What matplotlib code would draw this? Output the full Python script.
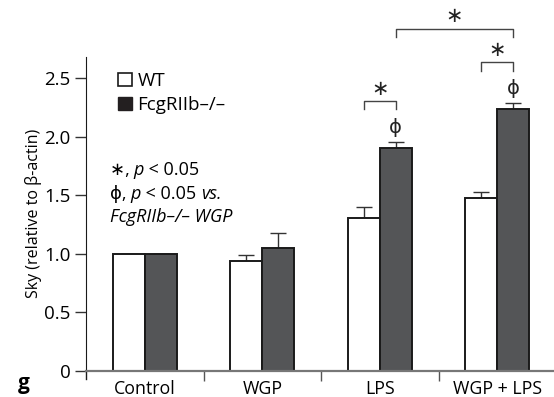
import numpy as np
import matplotlib
matplotlib.use("Agg")
import matplotlib.pyplot as plt
from matplotlib.patches import Patch

plt.rcParams["font.family"] = ["Open Sans", "DejaVu Sans"]
plt.rcParams["font.size"] = 12.5

# data
groups = ["Control", "WGP", "LPS", "WGP + LPS"]
wt_mean = [1.0, 0.936, 1.303, 1.474]
wt_err = [0.0, 0.05, 0.094, 0.055]
ko_mean = [1.0, 1.045, 1.90, 2.233]
ko_err = [0.0, 0.133, 0.053, 0.051]
series_labels = ["WT", "FcgRIIb\u2013/\u2013"]

fig = plt.figure(figsize=(5.54, 3.97), dpi=100)
ax = fig.add_axes([86 / 554, 26.5 / 397, 470 / 554, 313.5 / 397])

x = np.arange(len(groups))
w = 0.272
ax.bar(x - w / 2, wt_mean, w, color="white", edgecolor="#1a1a1a", linewidth=1.4, zorder=2)
ax.bar(x + w / 2, ko_mean, w, color="#545557", edgecolor="#1a1a1a", linewidth=1.4, zorder=2)
ax.errorbar(x - w / 2, wt_mean, yerr=[np.zeros(4), wt_err], fmt="none",
            ecolor="#333333", elinewidth=1, capsize=5.5, capthick=1, zorder=1)
ax.errorbar(x + w / 2, ko_mean, yerr=[np.zeros(4), ko_err], fmt="none",
            ecolor="#333333", elinewidth=1, capsize=5.5, capthick=1, zorder=1)

ax.set_xlim(-0.5, 3.5)
ax.set_ylim(0, 2.68)
ax.set_yticks([0, 0.5, 1.0, 1.5, 2.0, 2.5])
ax.set_yticklabels(["0", "0.5", "1.0", "1.5", "2.0", "2.5"], fontsize=13.5)
ax.tick_params(axis="y", direction="out", length=8, width=1, color="#333333", pad=3)

ax.set_xticks([0.5, 1.5, 2.5])
ax.set_xticklabels([])
ax.tick_params(axis="x", which="major", direction="out", length=7, width=1, color="#555555")
ax.set_xticks(x, minor=True)
ax.set_xticklabels(groups, minor=True, fontsize=12.8)
ax.tick_params(axis="x", which="minor", length=0, pad=7)

for s in ["top", "right"]:
    ax.spines[s].set_visible(False)
ax.spines["left"].set_color("#1a1a1a")
ax.spines["bottom"].set_color("#777777")
ax.spines["bottom"].set_linewidth(1.6)
ax.plot([-0.5, -0.5], [0, -0.07], color="#1a1a1a", lw=1, clip_on=False)

ax.set_ylabel("Sky (relative to \u03b2-actin)", fontsize=11.5, labelpad=2)

# legend
handles = [Patch(facecolor="white", edgecolor="#1a1a1a", linewidth=1.2),
           Patch(facecolor="#231f20", edgecolor="#231f20")]
ax.legend(handles, series_labels, loc="upper left", bbox_to_anchor=(0.044, 0.988),
          frameon=False, handlelength=0.75, handleheight=0.75, handletextpad=0.3,
          labelspacing=0.32, borderaxespad=0.2, fontsize=13.5)


def rich_line(xp, yp, parts):
    t = ax.text(xp, yp, parts[0][0], style=parts[0][1], transform=ax.transAxes,
                ha="left", va="bottom", fontsize=13)
    for s, st in parts[1:]:
        t = ax.annotate(s, xy=(1, 0), xycoords=t, ha="left", va="bottom",
                        style=st, fontsize=13)


rich_line(0.05, 0.61, [("\u2217, ", "normal"), ("p", "italic"), (" < 0.05", "normal")])
rich_line(0.05, 0.535, [("\u03d5, ", "normal"), ("p", "italic"), (" < 0.05 ", "normal"), ("vs.", "italic")])
rich_line(0.05, 0.46, [("FcgRIIb\u2013/\u2013 WGP", "italic")])

# significance marks
def bracket(x0, x1, ytop, yleg, ystar):
    ax.plot([x0, x0, x1, x1], [yleg, ytop, ytop, yleg], color="#444444", lw=1, clip_on=False)
    ax.text((x0 + x1) / 2, ystar, "\u2217", ha="center", va="center", fontsize=15,
            family="DejaVu Sans", color="#222222", clip_on=False)


bracket(x[2] - w / 2, x[2] + w / 2, 2.303, 2.238, 2.41)
bracket(x[3] - w / 2, x[3] + w / 2, 2.634, 2.562, 2.74)
bracket(x[2] + w / 2, x[3] + w / 2, 2.921, 2.853, 3.03)
for i, yp in [(2, 2.075), (3, 2.414)]:
    ax.text(x[i] + w / 2, yp, "\u03d5", ha="center", va="center", fontsize=14,
            family="DejaVu Sans", color="#222222", clip_on=False)

fig.text(24 / 554, 1 - 383 / 397, "g", fontsize=15, fontweight="bold", ha="center", va="center")

fig.savefig("out.png", dpi=100)
